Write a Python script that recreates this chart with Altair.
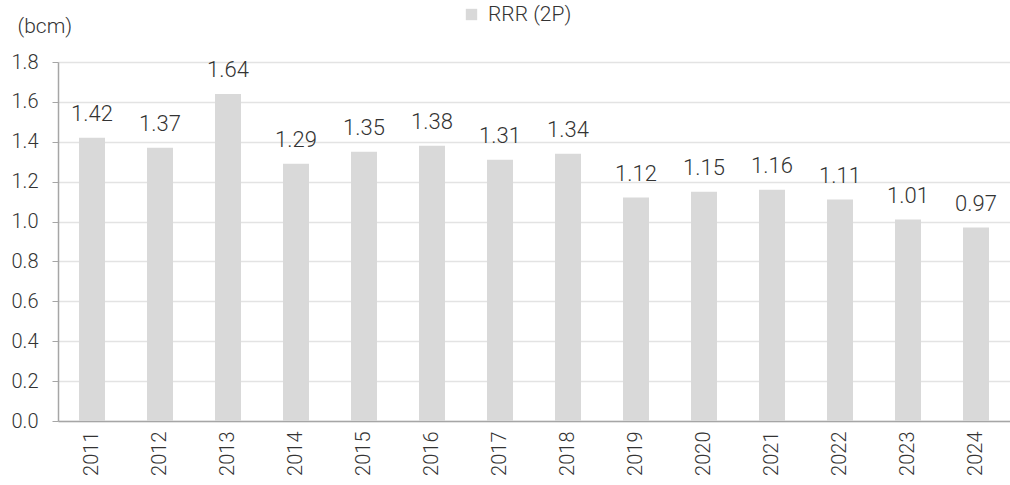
import altair as alt
import pandas as pd

# Reserve-replacement ratio (2P), billion cubic metres
years = ["2011", "2012", "2013", "2014", "2015", "2016", "2017",
         "2018", "2019", "2020", "2021", "2022", "2023", "2024"]
rrr_2p = [1.42, 1.37, 1.64, 1.29, 1.35, 1.38, 1.31,
          1.34, 1.12, 1.15, 1.16, 1.11, 1.01, 0.97]
y_ticks = [0.0, 0.2, 0.4, 0.6, 0.8, 1.0, 1.2, 1.4, 1.6, 1.8]
series_name = "RRR (2P)"

df = pd.DataFrame({"year": years, "value": rrr_2p, "series": series_name})
df["label"] = df["value"].map(lambda v: f"{v:.2f}")

FONT = "Roboto"
WEIGHT = 300
TEXT = "#333333"

x_enc = alt.X(
    "year:N",
    sort=years,
    scale=alt.Scale(paddingInner=0, paddingOuter=0),
    axis=alt.Axis(
        title=None,
        labelAngle=-90,
        labelAlign="right",
        labelBaseline="middle",
        labelPadding=10,
        labelFontSize=20,
        labelFontWeight=WEIGHT,
        labelColor=TEXT,
        labelFont=FONT,
        labelOverlap=False,
        ticks=False,
        domainColor="#a6a6a6",
        domainWidth=1.5,
        grid=False,
    ),
)

y_enc = alt.Y(
    "value:Q",
    scale=alt.Scale(domain=[0, 1.8], nice=False),
    axis=alt.Axis(
        title="(bcm)",
        titleAngle=0,
        titleAlign="left",
        titleBaseline="alphabetic",
        titleX=-41,
        titleY=-30,
        titleFont=FONT,
        titleFontSize=21,
        titleFontWeight=WEIGHT,
        titleColor=TEXT,
        values=y_ticks,
        format=".1f",
        labelFontSize=20,
        labelFontWeight=WEIGHT,
        labelColor=TEXT,
        labelFont=FONT,
        labelOverlap=False,
        labelPadding=14,
        tickSize=6,
        tickColor="#a6a6a6",
        domainColor="#a6a6a6",
        domainWidth=1.5,
        gridColor="#e3e3e3",
        gridWidth=1.5,
    ),
)

bars = alt.Chart(df).mark_bar(size=26).encode(
    x=x_enc,
    y=y_enc,
    color=alt.Color(
        "series:N",
        scale=alt.Scale(domain=[series_name], range=["#d9d9d9"]),
        legend=alt.Legend(
            title=None,
            orient="none",
            legendX=403,
            legendY=-58,
            symbolType="square",
            symbolSize=130,
            labelFont=FONT,
            labelFontSize=21,
            labelFontWeight=WEIGHT,
            labelColor=TEXT,
            labelOffset=6,
        ),
    ),
)

labels = alt.Chart(df).mark_text(
    baseline="alphabetic",
    dy=-17,
    font=FONT,
    fontSize=22,
    fontWeight=WEIGHT,
    color=TEXT,
).encode(
    x=x_enc,
    y=y_enc,
    text="label:N",
)

chart = (
    alt.layer(bars, labels)
    .properties(
        width=952,
        height=359,
        padding={"left": 58, "top": 62, "right": 0, "bottom": 64},
        autosize=alt.AutoSizeParams(type="none"),
        background="white",
    )
    .configure_view(stroke=None)
)

chart.save("out.html", embed_options={"renderer": "svg", "actions": False})
